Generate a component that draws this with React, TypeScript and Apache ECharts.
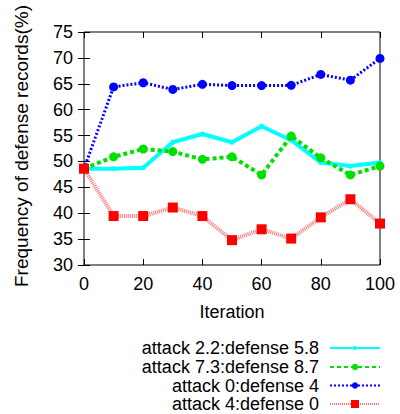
import React, { useEffect, useRef } from "react";
import * as echarts from "echarts";

const iterations = [0, 10, 20, 30, 40, 50, 60, 70, 80, 90, 100];
const seriesNames = [
  "attack 2.2:defense 5.8",
  "attack 7.3:defense 8.7",
  "attack 0:defense 4",
  "attack 4:defense 0",
];
const cyanValues = [48.6, 48.6, 48.8, 53.7, 55.3, 53.7, 56.8, 54.1, 49.8, 49.1, 49.8];
const greenValues = [48.6, 50.9, 52.4, 51.9, 50.4, 50.9, 47.4, 54.9, 50.7, 47.4, 49.1];
const blueValues = [48.6, 64.4, 65.2, 63.9, 64.9, 64.65, 64.65, 64.7, 66.8, 65.7, 69.9];
const redValues = [48.6, 39.45, 39.45, 41.1, 39.45, 34.8, 36.9, 35.1, 39.2, 42.7, 38.0];
const yTitle = "Frequency of defense records(%)";

const font = "Liberation Sans, Arial, Helvetica, sans-serif";
const legendRowCenters = [348, 367, 385.5, 404];
const legendIconHeights = [5, 8, 8, 10];

export default function App() {
  const ref = useRef<HTMLDivElement>(null);
  useEffect(() => {
    if (!ref.current) return;
    const chart = echarts.init(ref.current, null, { renderer: "svg" });
    const pair = (vals: number[]) => iterations.map((x, i) => [x, vals[i]]);
    const axisCommon = {
      type: "value" as const,
      axisLine: { show: false },
      splitLine: { show: false },
      axisTick: { show: true, inside: true, length: 6, lineStyle: { color: "#000", width: 1 } },
    };
    chart.setOption({
      animation: false,
      textStyle: { fontFamily: font },
      grid: {
        left: 84,
        right: 20,
        top: 32,
        bottom: 149,
        show: true,
        borderColor: "#000",
        borderWidth: 1,
        backgroundColor: "transparent",
      },
      graphic: [
        {
          type: "text",
          x: 21,
          y: 146,
          rotation: Math.PI / 2,
          style: {
            text: yTitle,
            fontSize: 19,
            fontFamily: font,
            fill: "#000",
            align: "center",
            verticalAlign: "middle",
          },
        },
      ],
      xAxis: [
        {
          ...axisCommon,
          min: 0,
          max: 100,
          interval: 20,
          name: "Iteration",
          nameLocation: "middle",
          nameGap: 38,
          nameTextStyle: { fontSize: 18, color: "#000", fontFamily: font },
          axisLabel: { fontSize: 18, color: "#000", margin: 10, fontFamily: font },
        },
        {
          ...axisCommon,
          position: "top",
          min: 0,
          max: 100,
          interval: 20,
          axisLabel: { show: false },
        },
      ],
      yAxis: [
        {
          ...axisCommon,
          min: 30,
          max: 75,
          interval: 5,
          axisLabel: { fontSize: 18, color: "#000", margin: 11, fontFamily: font },
        },
        {
          ...axisCommon,
          position: "right",
          min: 30,
          max: 75,
          interval: 5,
          axisLabel: { show: false },
        },
      ],
      legend: seriesNames.map((name, i) => ({
        orient: "vertical",
        align: "right",
        right: 19,
        top: legendRowCenters[i] - 9,
        padding: 0,
        itemWidth: 50,
        itemHeight: legendIconHeights[i],
        textStyle: { fontSize: 18, color: "#000", fontFamily: font, padding: [0, 6, 0, 0] },
        data: [name],
      })),
      series: [
        {
          name: seriesNames[0],
          type: "line",
          data: pair(cyanValues),
          symbol: "circle",
          symbolSize: 5,
          itemStyle: { color: "#00ffff" },
          lineStyle: { color: "#00ffff", width: 4, type: "solid" },
          z: 2,
        },
        {
          name: seriesNames[1],
          type: "line",
          data: pair(greenValues),
          symbol: "circle",
          symbolSize: 9,
          itemStyle: { color: "#00e000" },
          lineStyle: { color: "#00e000", width: 4, type: [4, 3] },
          z: 3,
        },
        {
          name: seriesNames[2],
          type: "line",
          data: pair(blueValues),
          symbol: "circle",
          symbolSize: 9,
          itemStyle: { color: "#0000ff" },
          lineStyle: { color: "#0000ff", width: 3, type: [2, 2] },
          z: 4,
        },
        {
          name: seriesNames[3],
          type: "line",
          data: pair(redValues),
          symbol: "rect",
          symbolSize: 10,
          itemStyle: { color: "#ff0000" },
          lineStyle: { color: "rgba(255,0,0,0.55)", width: 4, type: [1, 1] },
          z: 5,
        },
      ],
    });
    return () => chart.dispose();
  }, []);
  return <div ref={ref} style={{ width: 400, height: 414, position: "absolute", left: 0, top: 0 }} />;
}
